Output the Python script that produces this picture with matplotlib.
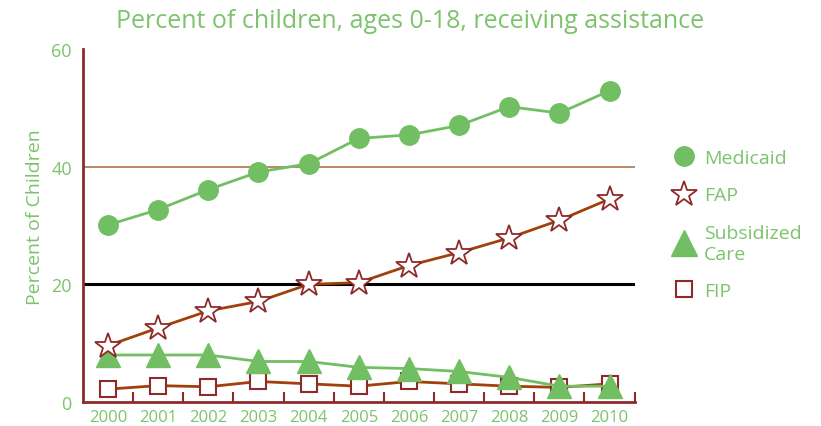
import matplotlib
matplotlib.use("Agg")
import matplotlib.pyplot as plt
import numpy as np

plt.rcParams['font.family'] = ['Open Sans', 'DejaVu Sans']

years = [2000, 2001, 2002, 2003, 2004, 2005, 2006, 2007, 2008, 2009, 2010]
medicaid = [30.1, 32.7, 36.1, 39.1, 40.5, 44.8, 45.4, 47.0, 50.2, 49.1, 52.9]
fap = [9.6, 12.6, 15.5, 17.1, 20.0, 20.3, 23.2, 25.4, 27.9, 30.9, 34.5]
subsidized = [8.0, 8.0, 8.0, 6.9, 6.9, 5.9, 5.7, 5.2, 4.2, 2.7, 2.7]
fip = [2.2, 2.8, 2.6, 3.5, 3.1, 2.7, 3.5, 3.1, 2.7, 2.5, 3.1]

green = "#72BF63"
text_green = "#7CC36C"
brown = "#A0400A"
darkred = "#8E2A2A"

fig = plt.figure(figsize=(8.21, 4.27), dpi=100)
ax = fig.add_axes([0.101, 0.056, 0.672, 0.827])

# reference lines
ax.axhline(40, color="#B0704A", lw=1.2, zorder=1)
ax.axhline(20, color="black", lw=2.2, zorder=1)

ax.plot(years, fip, color=brown, lw=2, marker='s', ms=12, mfc='white',
        mec=darkred, mew=1.5, zorder=3)
ax.plot(years, subsidized, color=green, lw=2, marker='^', ms=17, mfc=green,
        mec=green, zorder=4)
ax.plot(years, fap, color=brown, lw=2, marker='*', ms=19, mfc='white',
        mec=darkred, mew=1.3, zorder=5)
ax.plot(years, medicaid, color=green, lw=2, marker='o', ms=14, mfc=green,
        mec=green, zorder=6)

ax.set_xlim(1999.5, 2010.5)
ax.set_ylim(0, 60)
ax.set_yticks([0, 20, 40, 60])
ax.set_xticks(years)
ax.set_xticks(np.arange(2000.5, 2011, 1), minor=True)
ax.tick_params(axis='x', which='major', length=0, labelsize=12, labelcolor=text_green, pad=5)
ax.tick_params(axis='x', which='minor', direction='in', length=7, width=1.5, color=darkred)
ax.tick_params(axis='y', length=0, labelsize=13, labelcolor=text_green, pad=8)

for s in ['top', 'right']:
    ax.spines[s].set_visible(False)
for s in ['left', 'bottom']:
    ax.spines[s].set_color(darkred)
    ax.spines[s].set_linewidth(2)

ax.set_ylabel("Percent of Children", color=text_green, fontsize=14)
ax.yaxis.set_label_coords(-0.07, 0.527)
fig.suptitle("Percent of children, ages 0-18, receiving assistance",
             color=text_green, fontsize=18, y=0.978)

handles = [
    plt.Line2D([], [], ls='none', marker='o', ms=14, mfc=green, mec=green),
    plt.Line2D([], [], ls='none', marker='*', ms=19, mfc='white', mec=darkred, mew=1.3),
    plt.Line2D([], [], ls='none', marker='^', ms=19, mfc=green, mec=green),
    plt.Line2D([], [], ls='none', marker='s', ms=12, mfc='white', mec=darkred, mew=1.5),
]
labels = ["Medicaid", "FAP", "Subsidized\nCare", "FIP"]
leg = fig.legend(handles, labels, loc='upper left', bbox_to_anchor=(0.797, 0.69),
                 frameon=False, fontsize=14, labelcolor=text_green,
                 handlelength=1.2, handletextpad=0.45, labelspacing=1.0)

fig.savefig("out.png", dpi=100)
